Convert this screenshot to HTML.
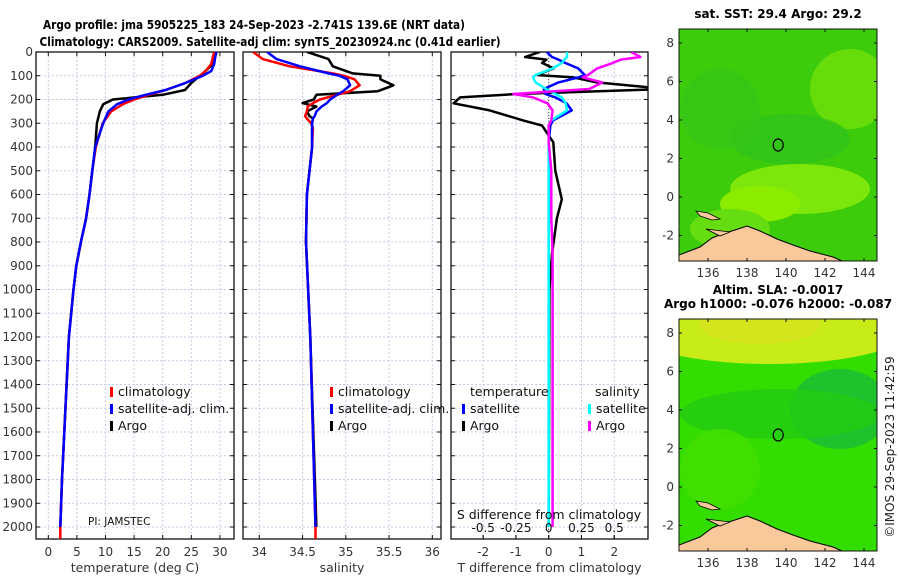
<!DOCTYPE html>
<html><head><meta charset="utf-8">
<style>
html,body{margin:0;padding:0;background:#fff;}
svg{display:block;font-family:"DejaVu Sans","Liberation Sans",sans-serif;}
</style></head>
<body>
<svg id="fig" width="900" height="580" viewBox="0 0 900 580" xmlns="http://www.w3.org/2000/svg">
<text x="254" y="29" text-anchor="middle" font-size="12" font-weight="bold" textLength="422" lengthAdjust="spacingAndGlyphs">Argo profile: jma 5905225_183 24-Sep-2023 -2.741S 139.6E (NRT data)</text>
<text x="270" y="46" text-anchor="middle" font-size="12" font-weight="bold" textLength="461" lengthAdjust="spacingAndGlyphs">Climatology: CARS2009. Satellite-adj clim: synTS_20230924.nc (0.41d earlier)</text>
<g id="panels"></g>
<g id="maps"></g>
<text transform="translate(894,447) rotate(-90)" text-anchor="middle" font-size="12" fill="#222">©IMOS 29-Sep-2023 11:42:59</text>
</svg>
<script>
// ---- data ----
const tDepth = [0,20,50,80,100,130,160,180,200,220,250,300,400,500,600,700,800,900,1000,1200,1400,1600,1800,2000];
const tArgo  = [29.3,29.0,28.8,27.5,26.5,25.0,23.9,20.0,11.3,9.6,9.0,8.5,8.2,7.7,7.2,6.6,5.7,4.9,4.4,3.6,3.2,2.8,2.4,2.1];
const tClim  = [29.0,28.8,28.5,27.5,26.5,24.0,20.5,17.5,15.0,13.0,11.0,9.5,8.3,7.7,7.2,6.6,5.7,4.9,4.4,3.6,3.2,2.8,2.4,2.1];
const tSat   = [29.4,29.2,29.0,28.5,27.0,24.0,20.5,17.0,14.0,12.0,10.5,9.6,8.2,7.7,7.2,6.6,5.7,4.9,4.4,3.6,3.2,2.8,2.4,2.1];
const sDepth = [0,30,60,90,100,115,140,165,180,200,215,230,250,270,280,300,320,400,600,800,1200,2000];
const sArgo  = [34.55,34.80,34.85,35.08,35.40,35.40,35.55,35.37,34.66,34.63,34.50,34.66,34.55,34.58,34.62,34.61,34.61,34.61,34.55,34.54,34.59,34.66];
const sClim  = [33.93,34.04,34.35,34.85,34.98,35.10,35.16,35.05,34.90,34.70,34.62,34.56,34.55,34.53,34.55,34.60,34.62,34.61,34.55,34.54,34.59,34.65];
const sSat   = [34.09,34.20,34.47,34.80,34.93,35.02,35.05,34.97,34.90,34.82,34.78,34.72,34.66,34.64,34.62,34.61,34.61,34.61,34.55,34.54,34.59,34.65];
const dDepth = [0,21,32,46,69,97,107,128,156,177,191,216,246,288,310,380,500,620,700,850,1000,2000];
const dTArgo = [-0.27,-0.72,-0.07,-0.2,0.15,-0.36,0.75,1.47,3.6,-0.97,-2.7,-2.9,-1.8,-0.78,-0.2,0.14,0.2,0.4,0.25,0.1,0.02,0.0];
const dTSat  = [-0.06,0.1,0.3,0.5,0.9,1.1,0.9,0.3,-0.15,-0.1,0.2,0.55,0.7,0.13,0.05,0.0,0.0,0.0,0.0,0.0,0.0,0.0];
const dSSat  = [0.14,0.14,0.12,0.1,0.03,-0.1,-0.12,-0.1,-0.02,0.05,0.1,0.13,0.14,0.02,0.0,0.0,0.0,0.0,0.0,0.0,0.0,0.0];
const dSArgo = [0.63,0.7,0.55,0.49,0.37,0.3,0.26,0.41,0.31,-0.27,-0.12,-0.01,0.03,0.02,0.0,0.0,0.02,0.02,0.02,0.03,0.03,0.03];
const depthTicks = [0,100,200,300,400,500,600,700,800,900,1000,1100,1200,1300,1400,1500,1600,1700,1800,1900,2000];
const tTicks = [0,5,10,15,20,25,30];
const sTicks = [34,34.5,35,35.5,36];
const sTickLabels = ['34','34.5','35','35.5','36'];
const dtTicks = [-2,-1,0,1,2];
const dsTicks = [-0.5,-0.25,0,0.25,0.5];
const dsTickLabels = ['-0.5','-0.25','0','0.25','0.5'];
const lonTicks = [136,138,140,142,144];
const latTicks = [-2,0,2,4,6,8];

const NS='http://www.w3.org/2000/svg';
function mk(tag,attrs,parent){const e=document.createElementNS(NS,tag);for(const k in attrs)e.setAttribute(k,attrs[k]);parent.appendChild(e);return e;}
const Y0=52, Y1=539;
const yD = d => 52 + d*0.2375;
const panels=document.getElementById('panels');

function panel(name,x0,x1,xfun,ticks,labels,xlabel){
  const g=mk('g',{},panels);
  
  
  const defs=mk('defs',{},g);
  const cp=mk('clipPath',{id:'clip-'+name},defs);
  mk('rect',{x:x0,y:Y0,width:x1-x0,height:Y1-Y0},cp);
  const grid=mk('g',{},g);
  
  
  depthTicks.forEach(d=>{mk('line',{x1:x0,x2:x1,y1:yD(d),y2:yD(d),stroke:'#c9c9e6','stroke-width':1,'stroke-dasharray':'2,2'},grid);});
  ticks.forEach(t=>{mk('line',{x1:xfun(t),x2:xfun(t),y1:Y0,y2:Y1,stroke:'#c9c9e6','stroke-width':1,'stroke-dasharray':'2,2'},grid);});
  mk('rect',{x:x0,y:Y0,width:x1-x0,height:Y1-Y0,fill:'none',stroke:'#111','stroke-width':1.3},g);
  depthTicks.forEach(d=>{
    mk('line',{x1:x0,x2:x0+4,y1:yD(d),y2:yD(d),stroke:'#111'},g);
    mk('line',{x1:x1-4,x2:x1,y1:yD(d),y2:yD(d),stroke:'#111'},g);
  });
  ticks.forEach((t,i)=>{
    mk('line',{x1:xfun(t),x2:xfun(t),y1:Y1-4,y2:Y1,stroke:'#111'},g);
    mk('line',{x1:xfun(t),x2:xfun(t),y1:Y0,y2:Y0+4,stroke:'#111'},g);
    const tx=mk('text',{x:xfun(t),y:556,'text-anchor':'middle','font-size':12,fill:'#333'},g);
    tx.textContent=labels[i];
  });
  const xl=mk('text',{x:(x0+x1)/2,y:572,'text-anchor':'middle','font-size':12.5,fill:'#333'},g);
  
  
  xl.textContent=xlabel;
  return g;
}
function line(g,name,xs,ds,xfun,color,w,clip){
  let p='';
  for(let i=0;i<xs.length;i++){p+=(i?'L':'M')+xfun(xs[i]).toFixed(1)+','+yD(ds[i]).toFixed(1);}
  const e=mk('path',{d:p,fill:'none',stroke:color,'stroke-width':w,'stroke-linejoin':'round','clip-path':'url(#clip-'+clip+')'},g);
  
  
}
function legend(g,name,x,y,items){
  items.forEach((it,i)=>{
    const yy=y+i*17;
    mk('rect',{x:x,y:yy-9,width:3,height:10,fill:it[1]},g);
    const t=mk('text',{x:x+8,y:yy,'font-size':12.5,fill:'#111'},g);
    
    
    t.textContent=it[0];
  });
}

// Panel 1 temperature
const xT = t => 48.3 + t*5.72;
const p1=panel('temperature-panel',36,234,xT,tTicks,tTicks.map(String),'temperature (deg C)');
depthTicks.forEach(d=>{const t=mk('text',{x:33,y:yD(d)+4,'text-anchor':'end','font-size':12,fill:'#333'},p1);t.textContent=String(d);});
line(p1,'temperature-argo-line',tArgo,tDepth,xT,'#000',2.5,'temperature-panel');
line(p1,'temperature-climatology-line',tClim.concat([2.1]),tDepth.concat([2050]),xT,'#f00',2.5,'temperature-panel');
line(p1,'temperature-satellite-line',tSat,tDepth,xT,'#00f',2.5,'temperature-panel');
legend(p1,'temperature-legend',110,396,[['climatology','#f00'],['satellite-adj. clim.','#00f'],['Argo','#000']]);
const pi=mk('text',{x:88,y:525,'font-size':10.5,fill:'#111'},p1);pi.textContent='PI: JAMSTEC';

// Panel 2 salinity
const xS = s => 259.3 + (s-34)*86.5;
const p2=panel('salinity-panel',243,441,xS,sTicks,sTickLabels,'salinity');
line(p2,'salinity-argo-line',sArgo,sDepth,xS,'#000',2.5,'salinity-panel');
line(p2,'salinity-climatology-line',sClim.concat([34.65]),sDepth.concat([2050]),xS,'#f00',2.5,'salinity-panel');
line(p2,'salinity-satellite-line',sSat,sDepth,xS,'#00f',2.5,'salinity-panel');
legend(p2,'salinity-legend',330,396,[['climatology','#f00'],['satellite-adj. clim.','#00f'],['Argo','#000']]);

// Panel 3 differences
const xDT = t => 548.7 + t*32.8;
const xDS = s => 548.7 + s*131;
const p3=panel('difference-panel',451,648,xDT,dtTicks,dtTicks.map(String),'T difference from climatology');
mk('line',{x1:548.7,x2:548.7,y1:Y0,y2:Y1,stroke:'#444','stroke-dasharray':'1,2'},p3);
line(p3,'t-diff-argo-line',dTArgo,dDepth,xDT,'#000',2.5,'difference-panel');
line(p3,'t-diff-satellite-line',dTSat,dDepth,xDT,'#00f',2.5,'difference-panel');
line(p3,'s-diff-satellite-line',dSSat,dDepth,xDS,'#0ff',2.5,'difference-panel');
line(p3,'s-diff-argo-line',dSArgo,dDepth,xDS,'#f0f',2.5,'difference-panel');
dsTicks.forEach((s,i)=>{
  mk('line',{x1:xDS(s),x2:xDS(s),y1:Y1-4,y2:Y1,stroke:'#111'},p3);
  const t=mk('text',{x:xDS(s),y:532,'text-anchor':'middle','font-size':12,fill:'#111'},p3);t.textContent=dsTickLabels[i];
});
const st=mk('text',{x:549,y:519,'text-anchor':'middle','font-size':12.5,fill:'#111'},p3);


st.textContent='S difference from climatology';
let t1=mk('text',{x:470,y:396,'font-size':12.5,fill:'#111'},p3);t1.textContent='temperature';
let t2=mk('text',{x:595,y:396,'font-size':12.5,fill:'#111'},p3);t2.textContent='salinity';
legend(p3,'t-diff-legend',462,413,[['satellite','#00f'],['Argo','#000']]);
legend(p3,'s-diff-legend',588,413,[['satellite','#0ff'],['Argo','#f0f']]);

// Maps
const maps=document.getElementById('maps');
function map(name,top,title,title2,base,patches){
  const g=mk('g',{},maps);
  
  
  const x0=679,x1=877,y0=top,y1=top+232;
  const lon = l => 708 + (l-136)*19.5;
  const lat = a => top+14 + (8-a)*19.25;
  const defs=mk('defs',{},g);
  const cp=mk('clipPath',{id:'clip-'+name},defs);
  mk('rect',{x:x0,y:y0,width:x1-x0,height:y1-y0},cp);
  const c=mk('g',{'clip-path':'url(#clip-'+name+')'},g);
  mk('rect',{x:x0,y:y0,width:x1-x0,height:y1-y0,fill:base},c);
  patches.forEach(p=>mk('ellipse',{cx:p[0],cy:top+p[1],rx:p[2],ry:p[3],fill:p[4],opacity:p[5]||1},c));
  const dy=top-29;
  const land=mk('path',{d:`M679,${261+dy} L679,${255+dy} L700,${247+dy} L712,${238+dy} L722,${234+dy} L735,${230+dy} L747,${226+dy} L760,${231+dy} L777,${239+dy} L793,${245+dy} L810,${251+dy} L833,${257+dy} L842,${261+dy} Z`,fill:'#f9c99b',stroke:'#000','stroke-width':1},c);
  
  
  mk('path',{d:`M696,${211+dy} L708,${213+dy} L720,${219+dy} L712,${220+dy} L700,${216+dy} Z`,fill:'#f9c99b',stroke:'#000','stroke-width':0.8},c);
  mk('path',{d:`M706,${229+dy} L730,${232+dy} L720,${236+dy} Z`,fill:'#f9c99b',stroke:'#000','stroke-width':0.8},c);
  mk('ellipse',{cx:lon(139.6),cy:lat(2.7),rx:5,ry:6,fill:'none',stroke:'#000','stroke-width':1.2},g);
  mk('rect',{x:x0,y:y0,width:x1-x0,height:y1-y0,fill:'none',stroke:'#111','stroke-width':1},g);
  lonTicks.forEach(l=>{
    mk('line',{x1:lon(l),x2:lon(l),y1:y1-3,y2:y1,stroke:'#111'},g);
    mk('line',{x1:lon(l),x2:lon(l),y1:y0,y2:y0+3,stroke:'#111'},g);
    const t=mk('text',{x:lon(l),y:y1+16,'text-anchor':'middle','font-size':12,fill:'#333'},g);t.textContent=String(l);
  });
  latTicks.forEach(a=>{
    mk('line',{x1:x0,x2:x0+3,y1:lat(a),y2:lat(a),stroke:'#111'},g);
    mk('line',{x1:x1-3,x2:x1,y1:lat(a),y2:lat(a),stroke:'#111'},g);
    const t=mk('text',{x:674,y:lat(a)+4,'text-anchor':'end','font-size':12,fill:'#333'},g);t.textContent=String(a);
  });
  const tt=mk('text',{x:778,y:top-11,'text-anchor':'middle','font-size':12,'font-weight':'bold'},g);
  
  
  tt.textContent=title;
  if(title2){const t2=mk('text',{x:778,y:top-25,'text-anchor':'middle','font-size':12,'font-weight':'bold'},g);t2.textContent=title2;}
}
map('sst-map',29,'sat. SST: 29.4 Argo: 29.2',null,'#3ccc0c',[
  [800,160,70,25,'#7de60a'],[760,175,40,18,'#8cec00'],[850,60,40,40,'#66dd0a'],[730,200,40,20,'#66dd10'],
  [790,110,60,25,'#2fc21a',0.8],[720,80,40,40,'#34c416',0.8],[700,245,14,12,'#9ee600']]);
map('sla-map',319,'Argo h1000: -0.076 h2000: -0.087','Altim. SLA: -0.0017','#33dd00',[
  [770,10,140,35,'#c8ec18'],[760,5,60,20,'#d6e61e'],[840,90,50,40,'#1cbf32',0.9],[780,95,100,25,'#22cc10',0.8],
  [720,150,40,40,'#44e000',0.8]]);
</script>
</body></html>
